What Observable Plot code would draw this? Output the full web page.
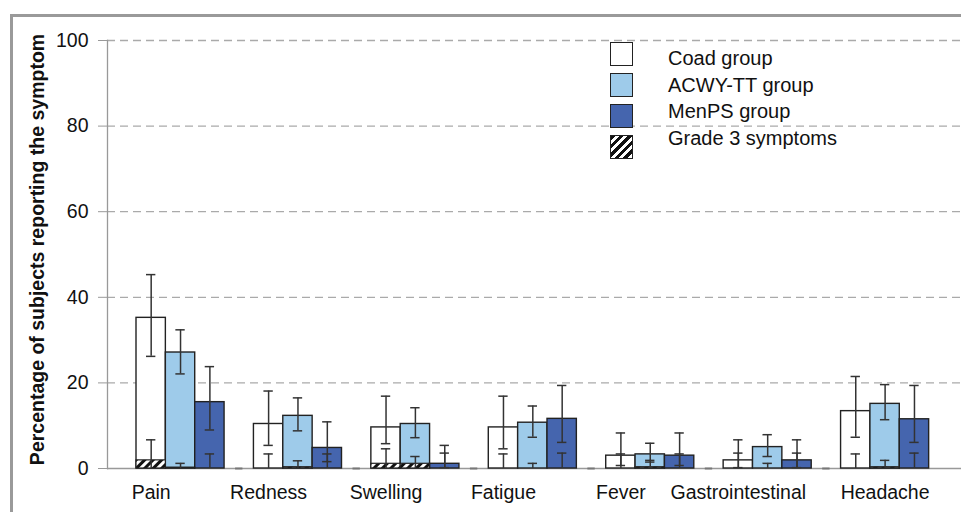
<!DOCTYPE html>
<html>
<head>
<meta charset="utf-8">
<script src="https://cdn.jsdelivr.net/npm/d3@7"></script>
<script src="https://cdn.jsdelivr.net/npm/@observablehq/plot@0.6"></script>
<style>
  body { margin: 0; background: #fff; font-family: "Liberation Sans", Arial, sans-serif; }
  #wrap { position: relative; width: 961px; height: 512px; overflow: hidden; background: #fff; }
  #frame { position: absolute; left: 10px; top: 14px; width: 1000px; height: 600px;
           border-top: 3px solid #9a9a9a; border-left: 3px solid #9a9a9a; }
  #chart { position: absolute; left: 0; top: 0; }
  #legend { position: absolute; left: 0; top: 0; width: 961px; height: 512px; pointer-events: none; }
  .sw { position: absolute; left: 610px; width: 21px; height: 22px; border: 1.5px solid #222; }
  .lt { position: absolute; left: 668px; font-size: 20px; color: #111; line-height: 1; white-space: nowrap; }
</style>
</head>
<body>
<div id="wrap">
  <div id="frame"></div>
  <div id="chart"></div>
  <div id="legend"></div>
</div>
<script>
// ---- data ----
const categories = ["Pain", "Redness", "Swelling", "Fatigue", "Fever", "Gastrointestinal", "Headache"];
const groups = ["Coad group", "ACWY-TT group", "MenPS group"];
const legendLabels = ["Coad group", "ACWY-TT group", "MenPS group", "Grade 3 symptoms"];
const yTicks = [0, 20, 40, 60, 80, 100];
const yTitle = "Percentage of subjects reporting the symptom";
// which bar each category label sits under
const labelUnder = ["Coad group", "Coad group", "Coad group", "Coad group", "Coad group", "Coad group", "ACWY-TT group"];

const coadValue      = [35.2, 10.4,  9.6,  9.6, 3.0, 1.9, 13.4];
const coadLow        = [26.2,  5.4,  5.8,  4.6, 0.7, 0.2,  7.3];
const coadHigh       = [45.3, 18.1, 16.9, 16.9, 8.3, 6.7, 21.5];
const coadGrade3     = [ 1.9,  0.0,  1.1,  0.0, 0.0, 0.0,  0.0];
const coadGrade3High = [ 6.7,  3.4,  4.6,  3.4, 3.4, 3.6,  3.4];

const acwyValue      = [27.1, 12.3, 10.4, 10.7, 3.3, 5.0, 15.1];
const acwyLow        = [22.1,  8.8,  7.2,  7.3, 1.5, 2.8, 11.4];
const acwyHigh       = [32.4, 16.5, 14.2, 14.6, 5.9, 7.9, 19.6];
const acwyGrade3     = [ 0.2,  0.3,  1.1,  0.0, 0.3, 0.0,  0.3];
const acwyGrade3High = [ 1.2,  1.8,  2.8,  1.2, 1.9, 1.2,  1.9];

const menpsValue      = [15.5,  4.8,  1.1, 11.6, 3.0, 1.9, 11.5];
const menpsLow        = [ 9.0,  1.6,  0.2,  6.1, 0.7, 0.2,  6.1];
const menpsHigh       = [23.8, 10.9,  5.4, 19.4, 8.3, 6.7, 19.4];
const menpsGrade3     = [ 0.0,  0.0,  0.0,  0.0, 0.0, 0.0,  0.0];
const menpsGrade3High = [ 3.4,  3.4,  3.6,  3.6, 3.4, 3.6,  3.6];

const colors = ["#ffffff", "#9ecbea", "#4565ae"];

// ---- build table ----
const series = [
  [coadValue, coadLow, coadHigh, coadGrade3, coadGrade3High],
  [acwyValue, acwyLow, acwyHigh, acwyGrade3, acwyGrade3High],
  [menpsValue, menpsLow, menpsHigh, menpsGrade3, menpsGrade3High]
];
const rows = [];
categories.forEach((c, i) => {
  groups.forEach((g, j) => {
    const [v, lo, hi, g3, g3hi] = series[j];
    rows.push({cat: c, grp: g, key: c + "|" + g, v: v[i], lo: lo[i], hi: hi[i], g3: g3[i], g3hi: g3hi[i]});
  });
});
const slotKeys = categories.flatMap(c => [...groups.map(g => c + "|" + g), c + "|gap"]);
const gapKeys = categories.slice(0, -1).map(c => c + "|gap");

const capInset = 10;

const svg = Plot.plot({
  width: 961,
  height: 512,
  marginLeft: 107,
  marginRight: 0,
  marginTop: 40,
  marginBottom: 44,
  style: {fontFamily: "'Liberation Sans', Arial, sans-serif", fontSize: "19px", color: "#111", background: "transparent"},
  x: {domain: slotKeys, range: [136, 958], padding: 0, round: false, axis: null},
  y: {domain: [0, 100], axis: null},
  color: {domain: groups, range: colors},
  marks: [
    Plot.ruleY(yTicks.filter(d => d > 0), {stroke: "#aaa", strokeWidth: 1.3, strokeDasharray: "8,5"}),
    Plot.ruleY([0], {stroke: "#999", strokeWidth: 1.3}),
    Plot.frame({anchor: "left", stroke: "#999", strokeWidth: 1.3}),
    Plot.axisY({ticks: yTicks, tickSize: 9, tickPadding: 10, fontSize: 19.5, label: null, stroke: "#999", fill: "#111"}),
    Plot.text([yTitle], {frameAnchor: "left", textAnchor: "middle", rotate: -90, dx: -70, dy: -5, fontWeight: "bold", fontSize: 19.5, fill: "#111"}),
    Plot.tickY(gapKeys, {x: d => d, y: () => 0, insetLeft: 11, insetRight: 11, stroke: "#777", strokeWidth: 2}),
    Plot.barY(rows, {x: "key", y: "v", fill: "grp", stroke: "#222", strokeWidth: 1.4}),
    Plot.barY(rows.filter(d => d.g3 > 0), {x: "key", y: "g3", fill: "url(#hatch)", stroke: "#222", strokeWidth: 1.2}),
    Plot.ruleX(rows, {x: "key", y1: "lo", y2: "hi", stroke: "#333", strokeWidth: 1.5}),
    Plot.tickY(rows, {x: "key", y: "lo", stroke: "#333", strokeWidth: 1.5, insetLeft: capInset, insetRight: capInset}),
    Plot.tickY(rows, {x: "key", y: "hi", stroke: "#333", strokeWidth: 1.5, insetLeft: capInset, insetRight: capInset}),
    Plot.ruleX(rows, {x: "key", y1: () => 0, y2: "g3hi", stroke: "#333", strokeWidth: 1.5}),
    Plot.tickY(rows, {x: "key", y: "g3hi", stroke: "#333", strokeWidth: 1.5, insetLeft: capInset, insetRight: capInset}),
    Plot.text(categories, {x: (d, i) => d + "|" + labelUnder[i], y: () => 0, dy: 24, fontSize: 19.5, fill: "#111"})
  ]
});

// hatch pattern for Grade 3 bars
d3.select(svg).insert("defs", ":first-child").html(
  '<pattern id="hatch" patternUnits="userSpaceOnUse" width="6" height="6" patternTransform="rotate(45)">' +
  '<rect x="0" y="0" width="6" height="6" fill="#fff"></rect>' +
  '<rect x="0" y="0" width="3" height="6" fill="#111"></rect></pattern>'
);
document.getElementById("chart").appendChild(svg);

// legend
const legend = document.getElementById("legend");
const swTops = [42, 73, 104, 135];
const txtTops = [48, 75, 101, 128];
legendLabels.forEach((lab, i) => {
  const sw = document.createElement("div");
  sw.className = "sw";
  sw.style.top = swTops[i] + "px";
  sw.style.background = i < 3 ? colors[i] : "repeating-linear-gradient(135deg, #111 0 3px, #fff 3px 6px)";
  legend.appendChild(sw);
  const t = document.createElement("div");
  t.className = "lt";
  t.style.top = txtTops[i] + "px";
  t.textContent = lab;
  legend.appendChild(t);
});
</script>
</body>
</html>
